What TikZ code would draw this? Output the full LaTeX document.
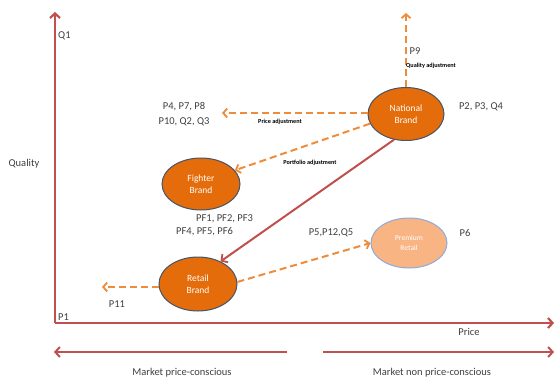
\documentclass[tikz,border=0pt]{standalone}
\usepackage{fontspec}
\setmainfont{Carlito}
\usetikzlibrary{arrows.meta,shapes.geometric}
\definecolor{axisred}{HTML}{C0504D}
\definecolor{brandor}{HTML}{E46C0A}
\definecolor{brandline}{HTML}{44546A}
\definecolor{premfill}{HTML}{F9B483}
\definecolor{premline}{HTML}{8EA9DB}
\definecolor{dashor}{HTML}{EF8C3A}
\definecolor{txt}{HTML}{404040}
\tikzset{
  axisline/.style={draw=axisred, line width=2.4pt, -{Straight Barb[length=4.5pt,width=10pt,line width=2.2pt]}},
  mktline/.style={draw=axisred, line width=2pt, -{Straight Barb[length=4.5pt,width=10pt,line width=2pt]}},
  moveline/.style={draw=axisred, line width=2pt, -{Straight Barb[length=4.5pt,width=10pt,line width=1.8pt]}},
  adjline/.style={draw=dashor, line width=2pt, dash pattern=on 7pt off 4pt, -{Straight Barb[length=4pt,width=9pt,line width=1.8pt]}},
  brandnode/.style={ellipse, draw=brandline, line width=1pt, fill=brandor, inner sep=0pt, text=white, align=center, font=\fontsize{9.5}{12}\selectfont},
  premnode/.style={ellipse, draw=premline, line width=1pt, fill=premfill, inner sep=0pt, text=white, align=center, font=\fontsize{7.5}{10}\selectfont},
  lbl/.style={text=txt, inner sep=0pt, align=center, font=\fontsize{10.5}{15}\selectfont},
  small/.style={text=black, inner sep=0pt, font=\bfseries\fontsize{6.2}{7}\selectfont},
}
\begin{document}
\begin{tikzpicture}[x=1pt,y=-1pt]
\useasboundingbox[fill=white] (0,0) rectangle (555,381);
% axes
\coordinate (org) at (55,323);
\coordinate (ytop) at (55,12);
\coordinate (xend) at (554,323);
\draw[axisline] (org) -- (ytop);
\draw[axisline] (org) -- (xend);
% market arrows
\coordinate (mlA) at (287,352);
\coordinate (mlB) at (54,352);
\coordinate (mrA) at (323,352);
\coordinate (mrB) at (554,352);
\draw[mktline] (mlA) -- (mlB);
\draw[mktline] (mrA) -- (mrB);
% axis labels
\node[lbl, anchor=west] (q1) at (58,36) {Q1};
\node[lbl] (quality) at (24,164) {Quality};
\node[lbl, anchor=west] (p1) at (58,317) {P1};
\node[lbl] (price) at (469,332) {Price};
\node[lbl] (mpc) at (182,373) {Market price-conscious};
\node[lbl] (mnpc) at (432,373) {Market non price-conscious};
% brands
\node[brandnode, minimum width=76pt, minimum height=53pt] (nat) at (406,114) {National\\Brand};
\node[brandnode, minimum width=78pt, minimum height=52pt] (fig) at (201,184) {Fighter\\Brand};
\node[brandnode, minimum width=78pt, minimum height=54pt] (ret) at (198,284) {Retail\\Brand};
\node[premnode, minimum width=76pt, minimum height=50pt] (prem) at (409,243) {Premium\\Retail};
% end points
\coordinate (qtip) at (406,13);
\coordinate (ptip) at (222,113);
\coordinate (ltip) at (102,287);
% connectors
\draw[adjline] (nat.north) -- (qtip);
\draw[adjline] (nat.west |- 0,113) -- (ptip);
\draw[adjline] (nat.195) -- (fig.22);
\draw[moveline] (nat.245) -- (ret.45);
\draw[adjline] (ret.west |- 0,287) -- (ltip);
\draw[adjline] (ret.3) -- (prem.west);
% labels
\node[lbl] (p9) at (415,51) {P9};
\node[small, anchor=west] (qadj) at (406,66) {Quality adjustment};
\node[lbl] (p2) at (481,107) {P2, P3, Q4};
\node[lbl] (p4) at (184,114) {P4, P7, P8\\P10, Q2, Q3};
\node[small] (padj) at (280,122) {Price adjustment};
\node[small] (fadj) at (310,163) {Portfolio adjustment};
\node[lbl, anchor=west] (pf1) at (196,219) {PF1, PF2, PF3};
\node[lbl, anchor=west] (pf4) at (176,232) {PF4, PF5, PF6};
\node[lbl] (p11) at (117,304) {P11};
\node[lbl] (p5) at (331,233) {P5,P12,Q5};
\node[lbl] (p6) at (465,233) {P6};
\end{tikzpicture}
\end{document}
